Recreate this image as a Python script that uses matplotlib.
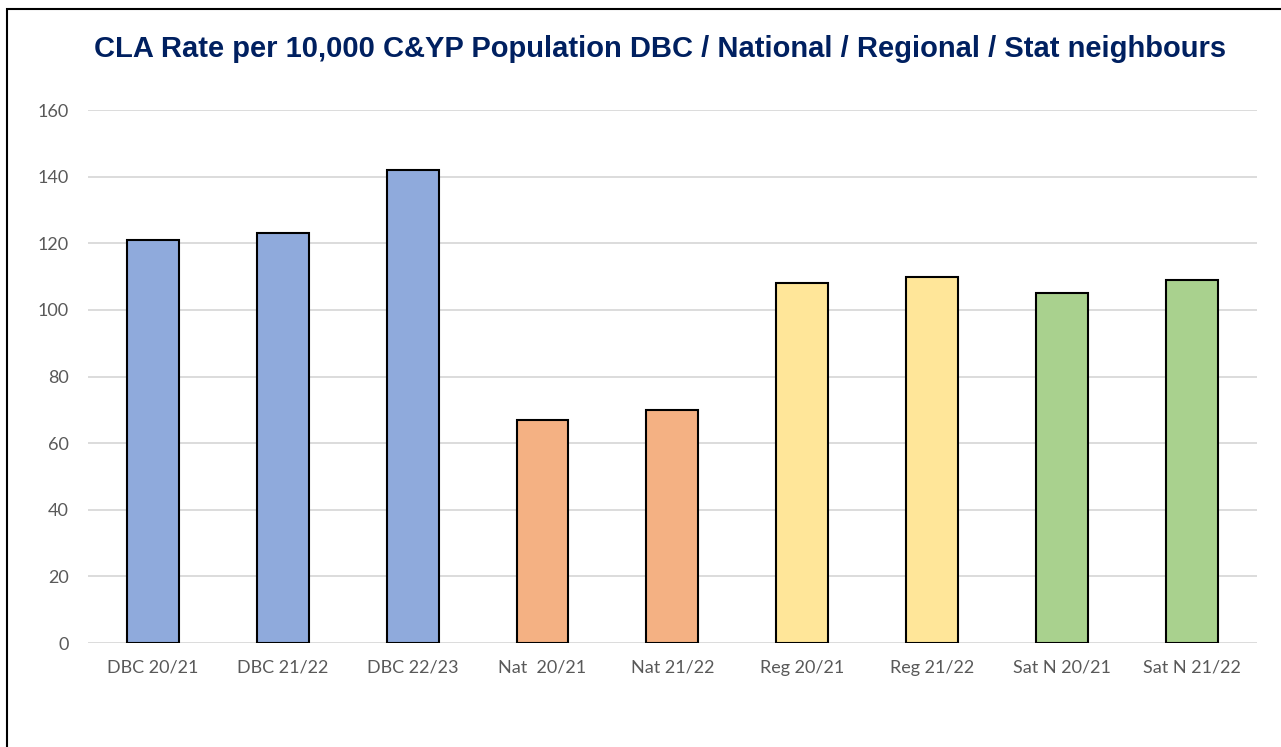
import matplotlib.pyplot as plt
from matplotlib.patches import Rectangle

categories = ['DBC 20/21', 'DBC 21/22', 'DBC 22/23', 'Nat  20/21', 'Nat 21/22',
              'Reg 20/21', 'Reg 21/22', 'Sat N 20/21', 'Sat N 21/22']
values = [121, 123, 142, 67, 70, 108, 110, 105, 109]
bar_colors = ['#8FAADC', '#8FAADC', '#8FAADC', '#F4B183', '#F4B183',
              '#FFE699', '#FFE699', '#A9D18E', '#A9D18E']
y_ticks = [0, 20, 40, 60, 80, 100, 120, 140, 160]

plt.rcParams['font.family'] = ['Lato', 'DejaVu Sans']

fig = plt.figure(figsize=(12.81, 7.47), dpi=100)
ax = fig.add_axes([0.0687, 0.1392, 0.9123, 0.7135])

# outer frame of the chart area (right/bottom cropped in the original)
fig.patches.append(Rectangle((7 / 1281, -0.05), 1.2, 1 - 9 / 747 + 0.05,
                             transform=fig.transFigure, fill=False,
                             edgecolor='black', linewidth=1.5))

x = range(len(categories))
ax.bar(x, values, width=0.4, color=bar_colors, edgecolor='black',
       linewidth=1.5, zorder=3)

ax.set_xlim(-0.5, len(categories) - 0.5)
ax.set_ylim(0, 160)
ax.set_yticks(y_ticks)
ax.set_xticks(list(x))
ax.set_xticklabels(categories)
ax.yaxis.grid(True, color='#D9D9D9', linewidth=1.3, zorder=0)
ax.set_axisbelow(True)
for s in ax.spines.values():
    s.set_visible(False)
ax.tick_params(axis='both', length=0, labelsize=13, colors='#595959')
ax.tick_params(axis='x', pad=12)
ax.tick_params(axis='y', pad=14)

fig.text(0.515, 0.935, 'CLA Rate per 10,000 C&YP Population DBC / National / Regional / Stat neighbours',
         ha='center', va='center', fontsize=21, fontweight='bold', color='#002060',
         family=['Liberation Sans', 'DejaVu Sans'])

fig.savefig('out.png', dpi=100)
